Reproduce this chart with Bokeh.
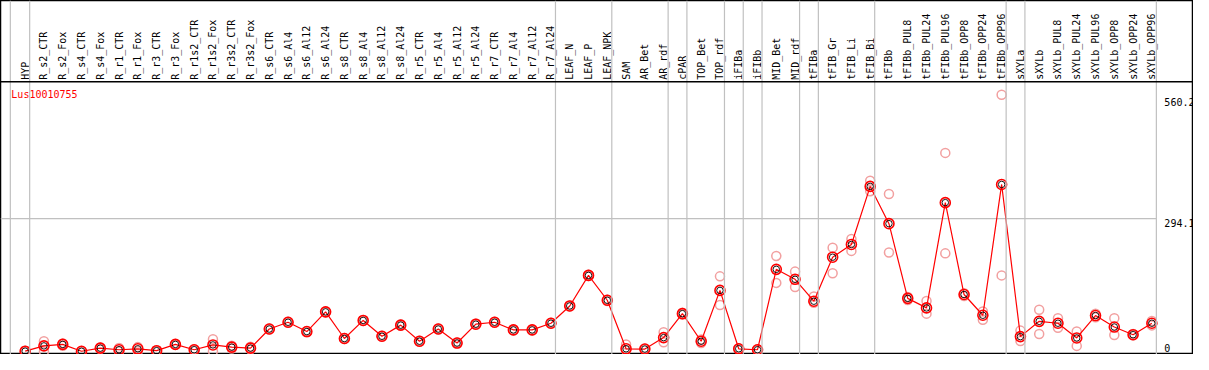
import math
from bokeh.plotting import figure
from bokeh.models import Range1d, Span
from bokeh.core.properties import value
from bokeh.embed import file_html
from bokeh.resources import INLINE

# ---------------- data ----------------
title = "Lus10010755"
categories = [
    "HYP", "R_s2_CTR", "R_s2_Fox", "R_s4_CTR", "R_s4_Fox", "R_r1_CTR", "R_r1_Fox",
    "R_r3_CTR", "R_r3_Fox", "R_r1s2_CTR", "R_r1s2_Fox", "R_r3s2_CTR", "R_r3s2_Fox",
    "R_s6_CTR", "R_s6_Al4", "R_s6_Al12", "R_s6_Al24", "R_s8_CTR", "R_s8_Al4",
    "R_s8_Al12", "R_s8_Al24", "R_r5_CTR", "R_r5_Al4", "R_r5_Al12", "R_r5_Al24",
    "R_r7_CTR", "R_r7_Al4", "R_r7_Al12", "R_r7_Al24", "LEAF_N", "LEAF_P", "LEAF_NPK",
    "SAM", "AR_Bet", "AR_rdf", "cPAR", "TOP_Bet", "TOP_rdf", "iFIBa", "iFIBb",
    "MID_Bet", "MID_rdf", "tFIBa", "tFIB_Gr", "tFIB_Li", "tFIB_Bi", "tFIBb",
    "tFIBb_PUL8", "tFIBb_PUL24", "tFIBb_PUL96", "tFIBb_OPP8", "tFIBb_OPP24",
    "tFIBb_OPP96", "sXYLa", "sXYLb", "sXYLb_PUL8", "sXYLb_PUL24", "sXYLb_PUL96",
    "sXYLb_OPP8", "sXYLb_OPP24", "sXYLb_OPP96",
]
means = [
    1, 12.7, 16, 0.8, 7.7, 4.2, 6.3, 2.1, 16, 4.2, 14.8, 9.9, 7.7,
    50, 65, 44.4, 88, 29, 69, 34, 58.6, 23, 50, 19, 60.7, 65, 48, 48, 62.8,
    101, 168.6, 113.6, 6.3, 5.7, 31, 84, 23, 135.4, 6.3, 4.2, 182, 160,
    111.5, 208.8, 237, 365.4, 283, 117.8, 96.7, 329.5, 126.3, 80.4, 369.7,
    33.2, 67, 62.8, 30.3, 79.8, 54.4, 37.4, 62.8,
]
rep_hi = [
    2, 23, 18, 1.5, 9, 8, 10, 3, 17, 5, 27.5, 13, 11,
    51, 66, 45, 89, 30, 70, 35, 60, 24, 51, 20, 62, 66, 49, 49, 64,
    102, 170, 115, 16, 6.5, 43, 86, 27, 166.5, 7, 5, 211.6, 177,
    122, 230, 249, 378, 348.5, 121, 112, 439.5, 129, 89, 568,
    46.5, 92.5, 74, 44.4, 84, 74, 39, 68,
]
rep_lo = [
    0, 0.5, 13, 0, 6, 1, 1, 1, 15, 3, 1, 7, 5,
    49, 64, 43, 87, 28, 68, 33, 57, 22, 49, 18, 60, 64, 47, 47, 62,
    100, 167, 112, 3, 5, 20.5, 82, 19, 103, 5.5, 3.5, 152, 143,
    108, 173.5, 222.8, 354.8, 219.4, 114, 84, 217.3, 123, 70.5, 168.6,
    23.3, 38.8, 53, 12.7, 76, 36.6, 36, 58,
]
group_ends = [0, 28, 31, 34, 35, 37, 38, 39, 41, 42, 45, 52, 53, 60]
tick_values = [0, 294.1, 560.2]
tick_labels = ["0", "294.1", "560.2"]
tick_baselines = ["bottom", "top", "top"]
grid_values = [294.1]

# ---------------- layout ----------------
W, H = 1193, 354
step = 19.03                  # reference px per category
x_left = -25 / step
x_right = (1209 - 25) / step
vpp = 294.1 / 139.0           # value per reference pixel
y_top = 367 * vpp
y_bot = -3 * vpp
header_y = (367 - 85) * vpp
first_line = -0.79
bound_x = [first_line] + [g + 0.24 for g in group_ends]
xs = list(range(len(categories)))

FONT = value("DejaVu Sans Mono")
FS = value("10px")

p = figure(width=W, height=H, output_backend="svg", toolbar_location=None,
           x_range=Range1d(x_left, x_right), y_range=Range1d(y_bot, y_top),
           x_axis_type=None, y_axis_type=None, min_border=0,
           outline_line_color="black", outline_line_width=1.5,
           background_fill_color="white", border_fill_color="white")
p.grid.visible = False

for bx in bound_x:
    p.add_layout(Span(location=bx, dimension="height", line_color="#c0c0c0", line_width=1.2))

for gv in grid_values:
    p.segment(x0=[x_left], y0=[gv], x1=[bound_x[-1]], y1=[gv], line_color="#c0c0c0", line_width=1.2)

p.add_layout(Span(location=header_y, dimension="width", line_color="black", line_width=1.5))

# replicates
p.scatter(x=xs, y=rep_hi, marker="circle", size=9, fill_color=None,
          line_color="#f2a0a0", line_width=1.5)
p.scatter(x=xs, y=rep_lo, marker="circle", size=9, fill_color=None,
          line_color="#f2a0a0", line_width=1.5)

# mean line and markers
p.line(x=xs, y=means, line_color="red", line_width=1.2)
p.scatter(x=xs, y=means, marker="circle", size=10, fill_color=None,
          line_color="red", line_width=1.6)
p.scatter(x=xs, y=means, marker="circle", size=6.5, fill_color=None,
          line_color="black", line_width=0.9)

# category labels
p.text(x=xs, y=[header_y] * len(xs), text=categories, angle=math.pi / 2,
       text_align="left", text_baseline="middle", y_offset=-2,
       text_font=FONT, text_font_size=FS, text_color="black")

# title
p.text(x=[first_line], y=[header_y], text=[title], text_align="left",
       text_baseline="top", x_offset=1, y_offset=7,
       text_font=FONT, text_font_size=FS, text_color="red")

# y tick labels on the right
p.text(x=[bound_x[-1]] * len(tick_values), y=tick_values, text=tick_labels,
       text_align="left", text_baseline=tick_baselines, x_offset=8,
       text_font=FONT, text_font_size=FS, text_color="black")

open("out.html", "w").write(file_html(p, INLINE))
